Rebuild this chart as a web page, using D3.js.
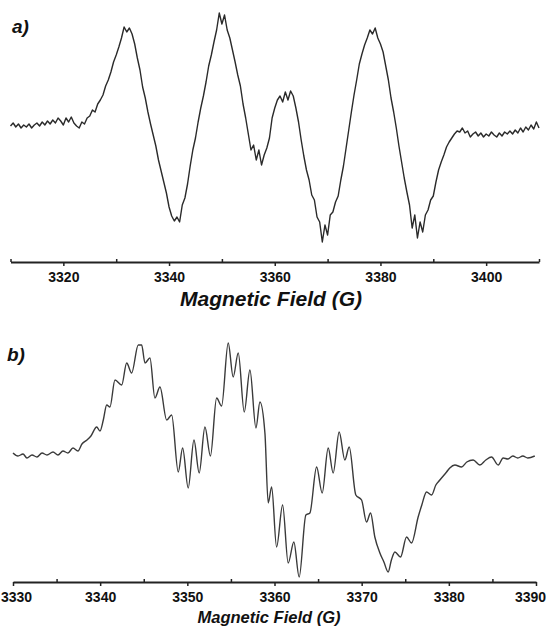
<!DOCTYPE html>
<html>
<head>
<meta charset="utf-8">
<script src="https://cdn.jsdelivr.net/npm/d3@7"></script>
<style>
  body { margin: 0; background: #fff; }
  svg { display: block; }
  .tick text { font-family: "Liberation Sans", Arial, sans-serif; font-weight: bold; fill: #111; }
  .lbl { font-family: "Liberation Sans", Arial, sans-serif; font-weight: bold; font-style: italic; fill: #111; }
</style>
</head>
<body>
<svg></svg>
<script>
// spectrum a): sweep 3310..3410 G, 0.5 G per point
var fieldA_start = 3310;
var fieldA_step = 0.5;
var signalA = [
  -1, 2, -2, 1, -3, 0, -2, 1, -3, 0,
  2, -1, 3, 0, 4, 1, 5, 2, 7, 4,
  0, 7, 3, 8, 2, -1, -3, 3, 1, 7,
  9, 15, 13, 21, 25, 30, 39, 45, 53, 63,
  70, 78, 87, 98, 93, 97, 91, 81, 67, 55,
  38, 27, 13, 1, -10, -21, -35, -46, -57, -68,
  -82, -91, -96, -92, -97, -80, -73, -59, -41, -25,
  -13, 3, 17, 29, 43, 59, 70, 83, 95, 112,
  101, 110, 95, 87, 75, 63, 50, 39, 21, 7,
  -9, -25, -20, -35, -25, -40, -30, -23, -13, 7,
  17, 25, 29, 23, 33, 25, 34, 29, 17, 3,
  -15, -31, -45, -55, -70, -75, -92, -97, -117, -100,
  -110, -90, -87, -77, -71, -55, -41, -23, -5, 13,
  30, 45, 61, 71, 80, 87, 95, 91, 97, 87,
  81, 73, 59, 45, 27, 13, -3, -21, -37, -53,
  -67, -80, -103, -90, -113, -97, -107, -90, -85, -75,
  -71, -57, -45, -37, -30, -22, -17, -13, -9, -6,
  -7, -3, -8, -6, -12, -9, -7, -11, -8, -12,
  -9, -11, -7, -10, -12, -8, -11, -7, -9, -6,
  -9, -5, -8, -3, -7, -2, -5, 0, -4, 3,
  -3
];

// spectrum b): field positions and signal
var fieldB = [
  3330.0, 3330.57, 3331.15, 3331.6, 3332.18, 3332.75, 3333.33, 3333.9, 3334.59, 3335.16,
  3335.73, 3336.3, 3336.88, 3337.45, 3337.91, 3338.49, 3338.94, 3339.6, 3339.98, 3340.36,
  3340.75, 3341.12, 3341.7, 3342.47, 3343.04, 3343.61, 3344.37, 3344.76, 3345.14, 3345.71,
  3346.28, 3346.86, 3347.63, 3348.2, 3348.96, 3349.46, 3350.1, 3350.76, 3351.36, 3352.02,
  3352.65, 3353.36, 3353.93, 3354.69, 3355.26, 3355.84, 3356.53, 3357.18, 3357.87, 3358.33,
  3358.9, 3359.28, 3359.67, 3360.24, 3360.93, 3361.57, 3362.22, 3362.83, 3363.6, 3364.06,
  3364.83, 3365.47, 3366.16, 3366.73, 3367.42, 3368.07, 3368.57, 3369.33, 3369.99, 3370.56,
  3371.02, 3371.51, 3372.09, 3372.55, 3373.04, 3373.41, 3373.81, 3374.46, 3375.15, 3375.72,
  3376.48, 3376.9, 3377.44, 3378.02, 3378.51, 3378.97, 3379.74, 3380.11, 3380.69, 3381.46,
  3382.06, 3382.79, 3383.56, 3384.24, 3384.9, 3385.66, 3386.23, 3386.77, 3387.34, 3387.91,
  3388.49, 3389.06, 3389.86
];
var signalB = [
  2, -1, 1, -3, 0, -2, 2, 0, 3, 0,
  4, 2, 7, 4, 11, 15, 19, 28, 24, 35,
  50, 48, 75, 70, 92, 82, 110, 110, 92, 97,
  57, 68, 35, 40, -17, 7, -33, 15, -18, 28,
  -1, 57, 49, 112, 78, 102, 43, 85, 27, 53,
  22, -48, -32, -92, -50, -108, -87, -122, -60, -58,
  -12, -38, 7, -18, 23, -5, 8, -40, -45, -67,
  -58, -82, -98, -107, -117, -105, -97, -102, -82, -88,
  -62, -50, -37, -40, -30, -25, -17, -13, -10, -12,
  -7, -5, -10, -5, -2, -10, -3, -4, -1, -3,
  -1, -3, -1
];

var ticksA = [3320, 3340, 3360, 3380, 3400];
var minorA = [3310, 3330, 3350, 3370, 3390, 3410];
var ticksB = [3330, 3340, 3350, 3360, 3370, 3380, 3390];
var minorB = [3335, 3345, 3355, 3365, 3375, 3385];

var svg = d3.select("svg")
    .attr("width", 546)
    .attr("height", 627);

var dataA = signalA.map(function(v, i) { return { f: fieldA_start + i * fieldA_step, v: v }; });
var dataB = signalB.map(function(v, i) { return { f: fieldB[i], v: v }; });

// ---- panel a ----
var xA = d3.scaleLinear().domain([3310, 3410]).range([10.5, 539]);
var yA = d3.scaleLinear().domain([-120, 120]).range([245, 5]);

svg.append("path")
    .datum(dataA)
    .attr("fill", "none")
    .attr("stroke", "#2a2a2a")
    .attr("stroke-width", 1.4)
    .attr("stroke-linejoin", "round")
    .attr("d", d3.line()
        .x(function(d) { return xA(d.f); })
        .y(function(d) { return yA(d.v); }));

var axA = svg.append("g")
    .attr("transform", "translate(0,262)")
    .call(d3.axisBottom(xA).tickValues(ticksA).tickSize(4).tickSizeOuter(0).tickPadding(6)
          .tickFormat(d3.format("d")));
axA.append("g")
    .call(d3.axisTop(xA).tickValues(minorA).tickSize(3).tickSizeOuter(0).tickFormat(""))
    .select(".domain").remove();
axA.selectAll("text").style("font-size", "14px");

svg.append("text").attr("class", "lbl")
    .attr("x", 271).attr("y", 306)
    .attr("text-anchor", "middle")
    .style("font-size", "21px")
    .text("Magnetic Field (G)");

svg.append("text").attr("class", "lbl")
    .attr("x", 12).attr("y", 33)
    .style("font-size", "19px")
    .text("a)");

// ---- panel b ----
var xB = d3.scaleLinear().domain([3330, 3390]).range([13, 536]);
var yB = d3.scaleLinear().domain([-125, 115]).range([580, 340]);

svg.append("path")
    .datum(dataB)
    .attr("fill", "none")
    .attr("stroke", "#3a3a3a")
    .attr("stroke-width", 1.4)
    .attr("d", d3.line()
        .curve(d3.curveMonotoneX)
        .x(function(d) { return xB(d.f); })
        .y(function(d) { return yB(d.v); }));

var axB = svg.append("g")
    .attr("transform", "translate(0,582)")
    .call(d3.axisBottom(xB).tickValues(ticksB).tickSize(4).tickSizeOuter(0).tickPadding(6)
          .tickFormat(d3.format("d")));
axB.append("g")
    .call(d3.axisTop(xB).tickValues(minorB).tickSize(3).tickSizeOuter(0).tickFormat(""))
    .select(".domain").remove();
axB.selectAll("text").style("font-size", "14px");
// keep the end labels inside the picture
axB.selectAll(".tick text")
    .attr("dx", function(d) { return d == 3390 ? -6 : (d == 3330 ? 3 : 0); });

svg.append("text").attr("class", "lbl")
    .attr("x", 269).attr("y", 623)
    .attr("text-anchor", "middle")
    .style("font-size", "16.5px")
    .text("Magnetic Field (G)");

svg.append("text").attr("class", "lbl")
    .attr("x", 7).attr("y", 361)
    .style("font-size", "19px")
    .text("b)");

svg.selectAll(".domain").attr("stroke", "#222").attr("stroke-width", 2);
svg.selectAll(".tick line").attr("stroke", "#222").attr("stroke-width", 1.5);
</script>
</body>
</html>
